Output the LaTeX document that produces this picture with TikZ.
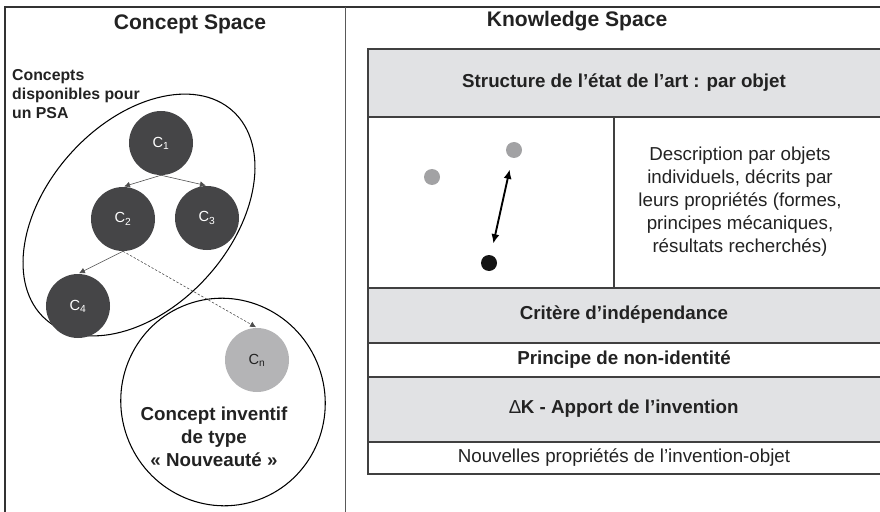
\documentclass[tikz,border=0pt]{standalone}
\usepackage{fontspec}
\setmainfont{Liberation Sans}
\usepackage{tikz}
\usetikzlibrary{arrows.meta}
\definecolor{cellgray}{HTML}{E1E2E4}
\definecolor{darkconcept}{HTML}{454547}
\definecolor{lightconcept}{HTML}{B4B4B6}
\definecolor{dotgray}{HTML}{A2A2A4}
\definecolor{inkgray}{HTML}{222222}

\begin{document}
\begin{tikzpicture}[x=0.03cm, y=-0.03cm, text=inkgray,
	concept/.style={circle, minimum size=1.92cm, inner sep=0, fill=darkconcept, text=white, font=\fontsize{12.5}{14}\selectfont},
	dot/.style={circle, minimum size=0.48cm, inner sep=0, fill=dotgray},
	link/.style={draw=black!70, line width=.5pt, -{Latex[length=5pt,width=5pt]}, shorten >=1pt},
	cell/.style={draw=black!75, line width=1.1pt},
	bigtitle/.style={font=\fontsize{18}{21}\selectfont\bfseries},
	rowtext/.style={font=\fontsize{16}{19.5}\selectfont\bfseries, align=center},
	plaintext/.style={font=\fontsize{16}{19.6}\selectfont, align=center}]
	\useasboundingbox (0,0) rectangle (880,512);
	\clip (0,0) rectangle (880,512);
	\draw[color=black!80, line width=1.5pt] (5,515) -- (5,7) -- (885,7);
	\draw[color=black!65, line width=1pt] (345.5,7) -- (345.5,515);
	\node[bigtitle] (cstitle) at (190,24) {Concept Space};
	\node[bigtitle] (kstitle) at (577,21) {Knowledge Space};
	\node[anchor=west, inner sep=0, align=left, font=\fontsize{13.5}{16.2}\selectfont\bfseries] (avail) at (12,94) {Concepts\\disponibles pour\\un PSA};
	\draw[line width=.9pt, rotate around={48:(139,215)}] (139,215) ellipse [x radius=140, y radius=92];
	\draw[line width=.9pt, rotate around={20:(223,402)}] (223,402) ellipse [x radius=102, y radius=104];
	\node[concept] (c1) at (161,143) {C\textsubscript{1}};
	\node[concept] (c2) at (123,219) {C\textsubscript{2}};
	\node[concept] (c3) at (207,218) {C\textsubscript{3}};
	\node[concept] (c4) at (78,306) {C\textsubscript{4}};
	\node[concept, fill=lightconcept, text=inkgray] (cn) at (257,360) {C\textsubscript{n}};
	\draw[link] (c1.south) -- (c2.north);
	\draw[link] (c1.south) -- (c3.north);
	\draw[link] (c2.south) -- (c4.north);
	\draw[link, dash pattern=on 2pt off 1.5pt] (c2.south) -- (cn.north);
	\node[font=\fontsize{16}{19.6}\selectfont\bfseries, align=center] (inventif) at (214,437) {Concept inventif\\de type\\«~Nouveauté~»};
	\draw[cell, fill=cellgray] (368,49) rectangle (885,117);
	\draw[cell] (368,117) rectangle (614,288);
	\draw[cell] (614,117) rectangle (885,288);
	\draw[cell, fill=cellgray] (368,288) rectangle (885,343);
	\draw[cell] (368,343) rectangle (885,377);
	\draw[cell, fill=cellgray] (368,377) rectangle (885,442);
	\draw[cell] (368,442) rectangle (885,474);
	\node[rowtext] (etat) at (624,83) {Structure de l’état de l’art : par objet};
	\node[rowtext] (critere) at (624,315) {Critère d’indépendance};
	\node[rowtext] (principe) at (624,360) {Principe de non-identité};
	\node[rowtext] (apport) at (624,409) {{\fontseries{m}\selectfont ∆}K - Apport de l’invention};
	\node[plaintext] (nouvelles) at (624,458) {Nouvelles propriétés de l’invention-objet};
	\node[plaintext] (descr) at (740,202) {Description par objets\\individuels, décrits par\\leurs propriétés (formes,\\principes mécaniques,\\résultats recherchés)};
	\node[dot] (d1) at (432,177) {};
	\node[dot] (d2) at (514,150) {};
	\node[dot, fill=black!92] (d3) at (489,263) {};
	\draw[{Latex[length=8pt,width=7pt]}-{Latex[length=8pt,width=7pt]}, line width=1.6pt, shorten <=10pt, shorten >=10pt] (d3) -- (d2);
\end{tikzpicture}
\end{document}
